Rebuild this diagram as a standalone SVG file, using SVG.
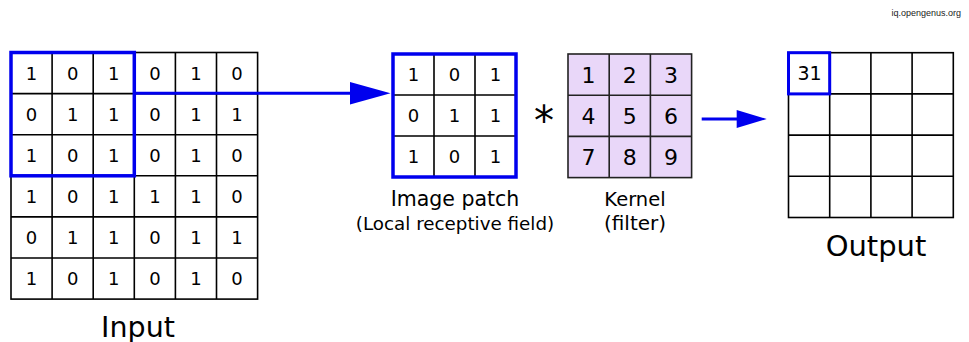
<svg xmlns="http://www.w3.org/2000/svg" width="969" height="342" viewBox="0 0 969 342">
<style>
text{font-family:"DejaVu Sans","Noto Sans",sans-serif;fill:#000;text-anchor:middle}
.grid{fill:none;stroke:#000;stroke-width:1.6}
.kgrid{fill:#e9d7f9;stroke:#222;stroke-width:1.6}
.sel{fill:none;stroke:#0000ee;stroke-width:3.5}
.d18{font-size:18px}
.d22{font-size:22px}
.conn{stroke:#0000ee;stroke-width:3;fill:none}
.head{fill:#0000ee}
</style>
<rect width="969" height="342" fill="#fff"/>
<g id="input">
<rect class="grid" x="11" y="52.5" width="246.6" height="246.6"/>
<path class="grid" d="M52.1 52.5V299.1M93.2 52.5V299.1M134.3 52.5V299.1M175.4 52.5V299.1M216.5 52.5V299.1M11 93.6H257.6M11 134.7H257.6M11 175.8H257.6M11 216.9H257.6M11 258H257.6"/>
<g class="d18">
<text x="31.6" y="79.6">1</text><text x="72.7" y="79.6">0</text><text x="113.8" y="79.6">1</text><text x="154.9" y="79.6">0</text><text x="196" y="79.6">1</text><text x="237.1" y="79.6">0</text>
<text x="31.6" y="120.7">0</text><text x="72.7" y="120.7">1</text><text x="113.8" y="120.7">1</text><text x="154.9" y="120.7">0</text><text x="196" y="120.7">1</text><text x="237.1" y="120.7">1</text>
<text x="31.6" y="161.8">1</text><text x="72.7" y="161.8">0</text><text x="113.8" y="161.8">1</text><text x="154.9" y="161.8">0</text><text x="196" y="161.8">1</text><text x="237.1" y="161.8">0</text>
<text x="31.6" y="202.9">1</text><text x="72.7" y="202.9">0</text><text x="113.8" y="202.9">1</text><text x="154.9" y="202.9">1</text><text x="196" y="202.9">1</text><text x="237.1" y="202.9">0</text>
<text x="31.6" y="244">0</text><text x="72.7" y="244">1</text><text x="113.8" y="244">1</text><text x="154.9" y="244">0</text><text x="196" y="244">1</text><text x="237.1" y="244">1</text>
<text x="31.6" y="285.1">1</text><text x="72.7" y="285.1">0</text><text x="113.8" y="285.1">1</text><text x="154.9" y="285.1">0</text><text x="196" y="285.1">1</text><text x="237.1" y="285.1">0</text>
</g>
<rect class="sel" x="11" y="52.5" width="123.3" height="123.3"/>
<text x="138" y="336.5" style="font-size:28.5px">Input</text>
</g>
<g id="patch">
<rect class="grid" x="393" y="54" width="123" height="123"/>
<path class="grid" d="M434 54V177M475 54V177M393 95H516M393 136H516"/>
<g class="d18">
<text x="413.5" y="81.1">1</text><text x="454.5" y="81.1">0</text><text x="495.5" y="81.1">1</text>
<text x="413.5" y="122.1">0</text><text x="454.5" y="122.1">1</text><text x="495.5" y="122.1">1</text>
<text x="413.5" y="163.1">1</text><text x="454.5" y="163.1">0</text><text x="495.5" y="163.1">1</text>
</g>
<rect class="sel" x="393" y="54" width="123" height="123"/>
<text x="455" y="206" style="font-size:20.5px">Image patch</text>
<text x="455" y="230" style="font-size:18.3px">(Local receptive field)</text>
</g>
<g id="operator">
<text x="544" y="135" style="font-size:40px">*</text>
</g>
<g id="kernel">
<rect class="kgrid" x="568" y="54" width="123.6" height="123.6"/>
<path class="grid" style="stroke:#222" d="M609.2 54V177.6M650.4 54V177.6M568 95.2H691.6M568 136.4H691.6"/>
<g class="d22">
<text x="588.6" y="82.6">1</text><text x="629.8" y="82.6">2</text><text x="671" y="82.6">3</text>
<text x="588.6" y="123.8">4</text><text x="629.8" y="123.8">5</text><text x="671" y="123.8">6</text>
<text x="588.6" y="165">7</text><text x="629.8" y="165">8</text><text x="671" y="165">9</text>
</g>
<text x="635" y="206" style="font-size:19.5px">Kernel</text>
<text x="635" y="230" style="font-size:20px">(filter)</text>
</g>
<g id="output">
<rect class="grid" x="788.5" y="52.7" width="164.8" height="164.8"/>
<path class="grid" d="M829.7 52.7V217.5M870.9 52.7V217.5M912.1 52.7V217.5M788.5 93.9H953.3M788.5 135.1H953.3M788.5 176.3H953.3"/>
<rect class="sel" style="stroke-width:3" x="788.5" y="52.7" width="41.2" height="41.2"/>
<text x="809.5" y="80.2" style="font-size:19px">31</text>
<text x="876" y="256" style="font-size:29px">Output</text>
</g>
<g id="connectors">
<path class="conn" d="M134.3 93.3H352"/>
<polygon class="head" points="350,82 390.5,93.3 350,104.6"/>
<path class="conn" d="M701.7 119H738"/>
<polygon class="head" points="736.7,110 766.7,119 736.7,128"/>
</g>
<g id="watermark">
<text x="961" y="16" style="font-family:'Liberation Sans',Arial,sans-serif;font-size:9px;text-anchor:end;fill:#222">iq.opengenus.org</text>
</g>
</svg>
